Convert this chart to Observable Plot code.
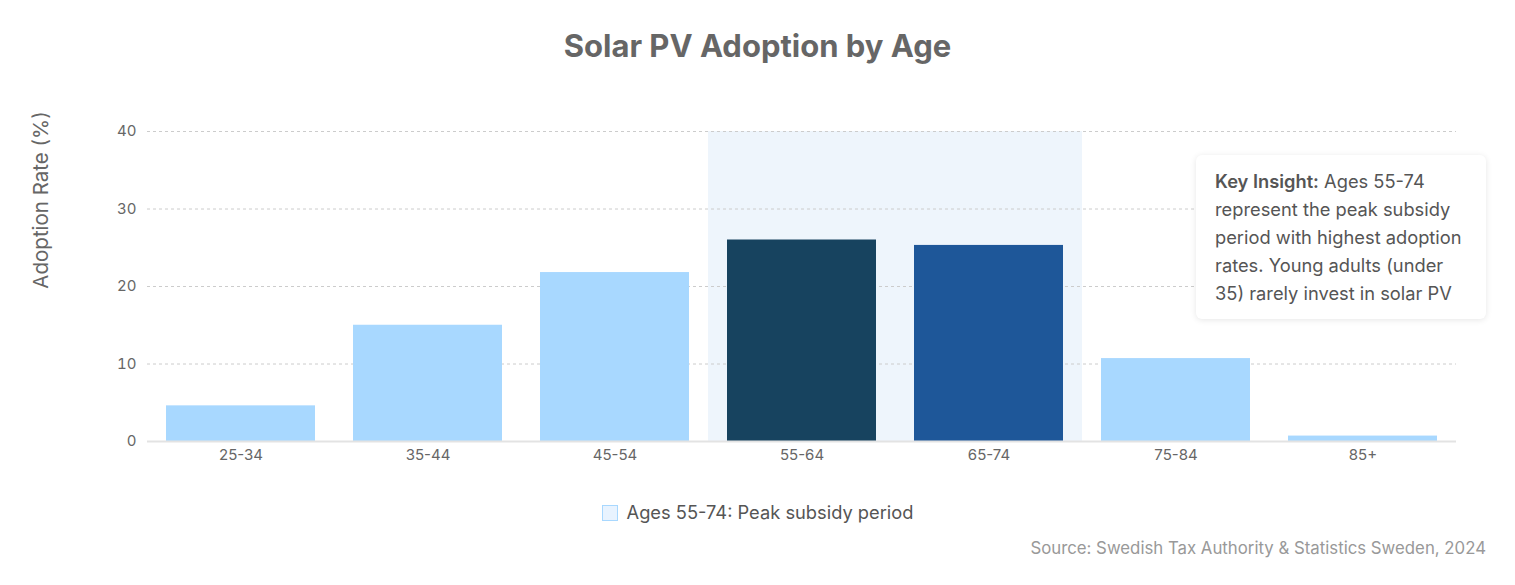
<!DOCTYPE html>
<html>
<head>
<meta charset="utf-8">
<script src="https://cdn.jsdelivr.net/npm/d3@7"></script>
<script src="https://cdn.jsdelivr.net/npm/@observablehq/plot@0.6"></script>
<style>
  html, body { margin: 0; padding: 0; background: #fff; }
  body { width: 1515px; height: 585px; position: relative; overflow: hidden; font-family: Inter, "Noto Sans", sans-serif; }
  #title { position: absolute; top: 27px; left: 0; width: 1515px; text-align: center; font-size: 31px; font-weight: 700; color: #666; }
  #chart { position: absolute; top: 90px; left: 0; }
  #ylabel { position: absolute; left: 40px; top: 200px; transform: translate(-50%, -50%) rotate(-90deg); font-size: 20.5px; color: #666; white-space: nowrap; }
  #insight { position: absolute; left: 1196px; top: 155px; width: 252px; padding: 12px 19px; background: #fff; border-radius: 6px; box-shadow: 0 1px 6px rgba(0,0,0,0.10); font-size: 18.3px; line-height: 28px; color: #555; }
  #insight .ln { white-space: nowrap; }
  #insight b { font-weight: 600; }
  #legend { position: absolute; top: 501px; left: 0; width: 1515px; text-align: center; font-size: 18.3px; color: #555; }
  #legend .sw { display: inline-block; width: 16px; height: 16px; background: #e8f3ff; border: 1px solid #a8d8ff; vertical-align: -2px; margin-right: 9px; box-sizing: border-box; }
  #source { position: absolute; top: 538px; right: 29px; font-size: 16.8px; color: #999; }
</style>
</head>
<body>
<div id="title">Solar PV Adoption by Age</div>
<div id="ylabel">Adoption Rate (%)</div>
<div id="chart"></div>
<div id="insight">
  <div class="ln"><b>Key Insight:</b><span> Ages 55-74</span></div>
  <div class="ln">represent the peak subsidy</div>
  <div class="ln">period with highest adoption</div>
  <div class="ln">rates. Young adults (under</div>
  <div class="ln">35) rarely invest in solar PV</div>
</div>
<div id="legend"><span class="sw"></span>Ages 55-74: Peak subsidy period</div>
<div id="source">Source: Swedish Tax Authority &amp; Statistics Sweden, 2024</div>
<script>
const ageGroups = ["25-34", "35-44", "45-54", "55-64", "65-74", "75-84", "85+"];
const adoptionRates = [4.6, 15.0, 21.8, 26.0, 25.3, 10.7, 0.7];
const barColors = ["#a8d8ff", "#a8d8ff", "#a8d8ff", "#17435f", "#1e5799", "#a8d8ff", "#a8d8ff"];
const highlightGroups = ["55-64", "65-74"];
const highlightTop = 40;
const yTicks = [0, 10, 20, 30, 40];

const data = ageGroups.map((g, i) => ({ group: g, rate: adoptionRates[i], color: barColors[i] }));
const hl = highlightGroups.map(g => ({ group: g, top: highlightTop }));

const plot = Plot.plot({
  width: 1515,
  height: 390,
  marginTop: 41,
  marginBottom: 39,
  marginLeft: 147,
  marginRight: 59,
  style: { fontFamily: "Inter, 'Noto Sans', sans-serif", fontSize: "15px", color: "#666", background: "transparent" },
  x: { domain: ageGroups, padding: 0, label: null },
  y: { domain: [0, 40], ticks: yTicks, label: null },
  marks: [
    Plot.barY(hl, { x: "group", y: "top", fill: "#eef5fc", inset: 0 }),
    Plot.gridY(yTicks.filter(t => t > 0), { stroke: "#ccc", strokeOpacity: 1, strokeDasharray: "3,3" }),
    Plot.barY(data, { x: "group", y: "rate", fill: "color", insetLeft: 19, insetRight: 19 }),
    Plot.ruleY([0], { stroke: "#e3e3e3", strokeWidth: 2 }),
    Plot.axisY({ ticks: yTicks, tickSize: 0, tickPadding: 11, fill: "#666", fontSize: 15, label: null }),
    Plot.axisX({ tickSize: 0, tickPadding: 8, fill: "#666", fontSize: 15, label: null })
  ]
});
document.getElementById("chart").appendChild(plot);
</script>
</body>
</html>
